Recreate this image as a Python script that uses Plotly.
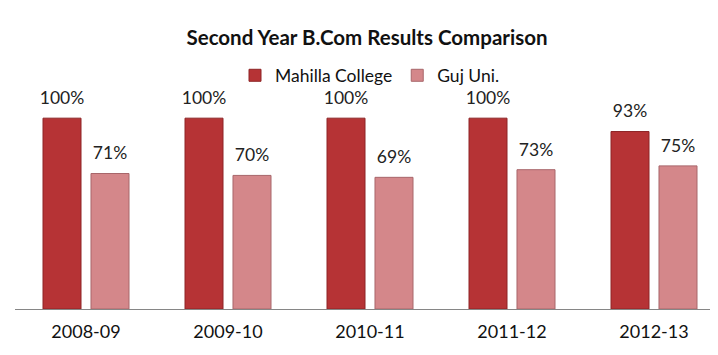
import plotly.graph_objects as go

categories = ["2008-09", "2009-10", "2010-11", "2011-12", "2012-13"]
mahilla = [1.00, 1.00, 1.00, 1.00, 0.93]
guj = [0.71, 0.70, 0.69, 0.73, 0.75]
series_names = ["Mahilla College", "Guj Uni."]
series_colors = ["#B63335", "#D4878A"]
series_edges = ["#8E2527", "#A8666A"]

font_family = "Lato, Open Sans, sans-serif"

fig = go.Figure()
for name, vals, col, edge, grp in zip(series_names, [mahilla, guj], series_colors, series_edges, ["a", "b"]):
    fig.add_trace(go.Bar(
        x=categories, y=vals, name=name, offsetgroup=grp,
        marker=dict(color=col, line=dict(color=edge, width=1)),
    ))
for vals, grp in zip([mahilla, guj], ["a", "b"]):
    fig.add_trace(go.Scatter(
        x=categories, y=vals, mode="markers+text", offsetgroup=grp, showlegend=False,
        marker=dict(size=14, opacity=0),
        text=[f"{v:.0%}" for v in vals], textposition="top center",
        textfont=dict(size=17.5, color="#222222"), cliponaxis=False, hoverinfo="skip",
    ))

fig.update_layout(
    width=718, height=355,
    margin=dict(l=7, r=1, t=72, b=54),
    paper_bgcolor="white", plot_bgcolor="white",
    font=dict(family=font_family, size=17, color="#111111"),
    title=dict(text="<b>Second Year B.Com Results Comparison</b>",
               x=0.5, xanchor="center", y=0.915, yanchor="middle",
               font=dict(size=20.5, color="#111111")),
    barmode="group", bargap=0.324, bargroupgap=0.208,
    scattermode="group", scattergap=0.324,
    showlegend=True,
    legend=dict(orientation="h", x=0.5, xanchor="center", y=1.02, yanchor="middle",
                font=dict(size=17.5), traceorder="normal", bgcolor="rgba(0,0,0,0)"),
    xaxis=dict(type="category", showline=True, linecolor="#868686", linewidth=1, ticks="",
               tickfont=dict(size=18), showgrid=False, ticklabelstandoff=6),
    yaxis=dict(range=[0, 1.2], visible=False, showgrid=False),
)

fig.write_html("out.html")
